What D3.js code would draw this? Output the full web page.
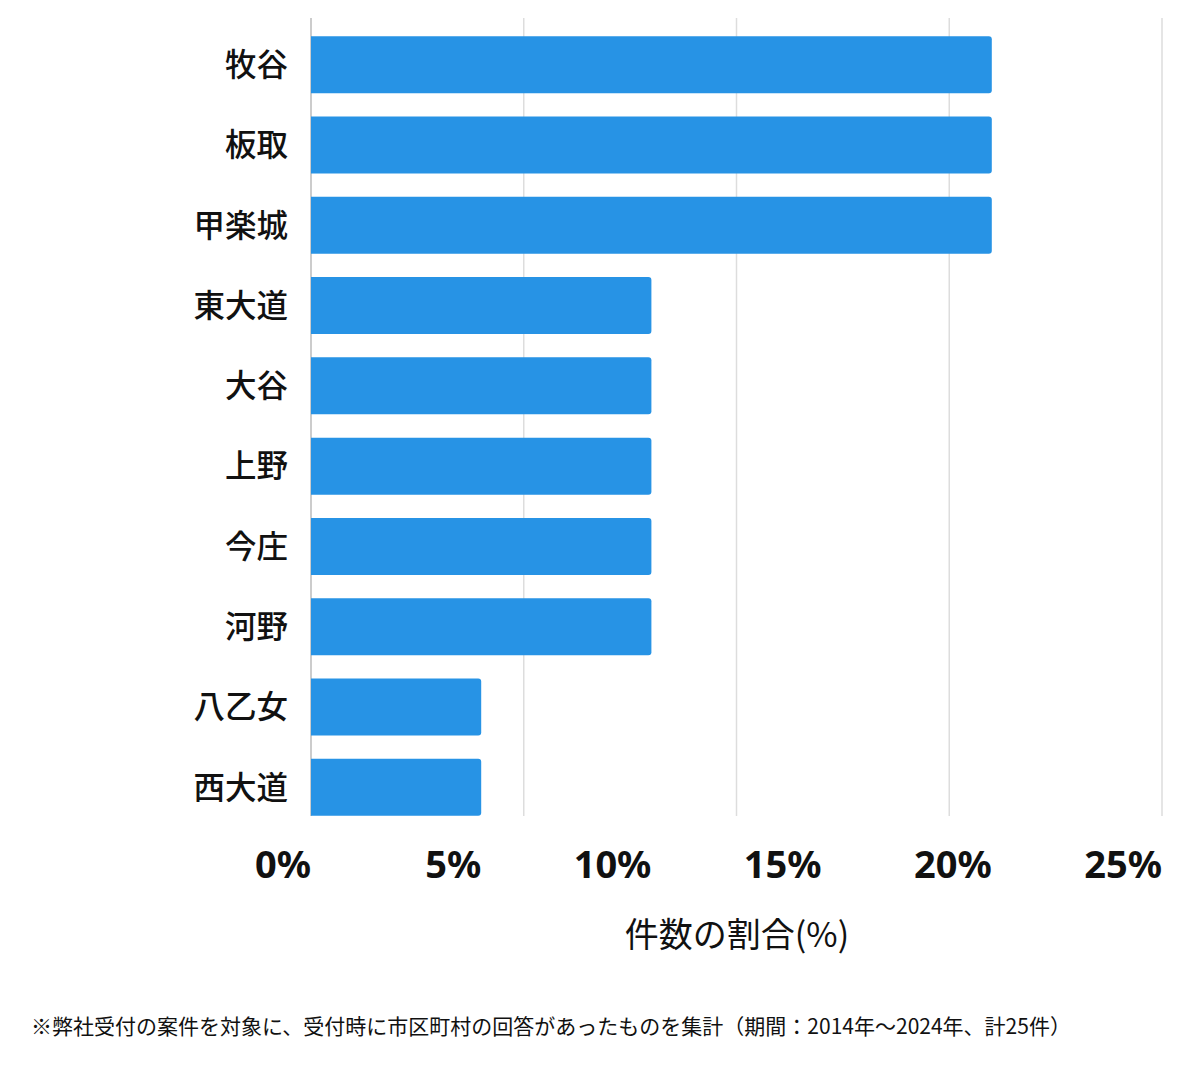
<!DOCTYPE html>
<html>
<head>
<meta charset="utf-8">
<script src="https://cdn.jsdelivr.net/npm/d3@7"></script>
<style>
  body { margin: 0; background: #fff; }
  svg { display: block; font-family: "Noto Sans CJK JP", "Noto Sans", sans-serif; }
</style>
</head>
<body>
<svg></svg>
<script>
const areas = ["牧谷", "板取", "甲楽城", "東大道", "大谷", "上野", "今庄", "河野", "八乙女", "西大道"]
const shares = [20, 20, 20, 10, 10, 10, 10, 10, 5, 5]
const tickValues = [0, 5, 10, 15, 20, 25]
const gridValues = [0, 6.25, 12.5, 18.75, 25]
const axisTitle = "件数の割合(%)"
const note = "※弊社受付の案件を対象に、受付時に市区町村の回答があったものを集計（期間：2014年～2024年、計25件）"

const width = 1200
const height = 1069

const svg = d3.select("svg")
    .attr("width", width)
    .attr("height", height)

const x = d3.scaleLinear()
    .domain([0, 25])
    .range([311, 1162])

const y = d3.scaleBand()
    .domain(areas)
    .range([25, 827])
    .paddingInner(0.29)
    .paddingOuter(0.14)

// grid lines
svg.append("g")
    .selectAll("line")
    .data(gridValues)
    .enter()
    .append("line")
    .attr("x1", d => x(d))
    .attr("x2", d => x(d))
    .attr("y1", 18)
    .attr("y2", 816)
    .style("stroke", (d, i) => i == 0 ? "#bbb" : "#ddd")
    .style("stroke-width", 1.5)

// bars: square on the left, rounded on the right
const r = 3
svg.append("g")
    .selectAll("path")
    .data(areas)
    .enter()
    .append("path")
    .attr("d", (d, i) => {
        const x0 = x(0), x1 = x(shares[i])
        const y0 = y(d), y1 = y(d) + y.bandwidth()
        return "M" + x0 + "," + y0 +
            "H" + (x1 - r) +
            "Q" + x1 + "," + y0 + " " + x1 + "," + (y0 + r) +
            "V" + (y1 - r) +
            "Q" + x1 + "," + y1 + " " + (x1 - r) + "," + y1 +
            "H" + x0 + "Z"
    })
    .style("fill", "#2793e5")

// category labels
svg.append("g")
    .selectAll("text")
    .data(areas)
    .enter()
    .append("text")
    .attr("x", 288)
    .attr("y", d => y(d) + y.bandwidth() / 2)
    .attr("dy", "0.36em")
    .attr("text-anchor", "end")
    .style("font-size", "31.5px")
    .style("font-weight", 500)
    .style("fill", "#111")
    .text(d => d)

// tick labels
svg.append("g")
    .selectAll("text")
    .data(tickValues)
    .enter()
    .append("text")
    .attr("x", d => x(d))
    .attr("y", 878)
    .attr("text-anchor", "end")
    .style("font-family", "'Noto Sans', sans-serif")
    .style("font-size", "38px")
    .style("font-weight", 700)
    .style("fill", "#111")
    .text(d => d + "%")

svg.append("text")
    .attr("x", 737)
    .attr("y", 947)
    .attr("text-anchor", "middle")
    .style("font-size", "34px")
    .style("fill", "#111")
    .text(axisTitle)

svg.append("text")
    .attr("x", 31)
    .attr("y", 1034)
    .style("font-size", "21px")
    .style("fill", "#111")
    .text(note)
</script>
</body>
</html>
